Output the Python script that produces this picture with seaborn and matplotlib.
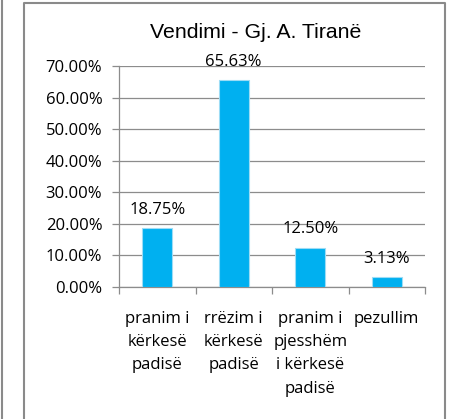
import matplotlib
matplotlib.use("Agg")
import matplotlib.pyplot as plt
import seaborn as sns
from matplotlib.lines import Line2D
from matplotlib.ticker import FuncFormatter, FixedLocator

# Data
categories = ["pranim i\nkërkesë\npadisë", "rrëzim i\nkërkesë\npadisë",
              "pranim i\npjesshëm\ni kërkesë\npadisë", "pezullim"]
shares = [0.1875, 0.6563, 0.1250, 0.0313]
share_labels = ["18.75%", "65.63%", "12.50%", "3.13%"]
title = "Vendimi - Gj. A. Tiranë"

sns.set_style("white")
plt.rcParams['font.family'] = ['Open Sans', 'DejaVu Sans']
plt.rcParams['text.color'] = 'black'
plt.rcParams['xtick.labelcolor'] = 'black'
plt.rcParams['ytick.labelcolor'] = 'black'

W, H = 449, 419
fig = plt.figure(figsize=(W / 100, H / 100), dpi=100)
ax = fig.add_axes([119 / W, 1 - 287 / H, (425 - 119) / W, (287 - 66) / H])

sns.barplot(x=categories, y=shares, color="#00B0F0", saturation=1, width=0.39,
            edgecolor="#9ddcf5", linewidth=0.8, ax=ax, zorder=3)

ax.set_ylim(0, 0.70)
ax.set_xlim(-0.5, 3.5)
ax.set_yticks([i / 10 for i in range(8)])
ax.yaxis.set_major_formatter(FuncFormatter(lambda v, p: f"{v * 100:.2f}%"))
ax.yaxis.grid(True, color="#8c8c8c", linewidth=0.9, zorder=0)
ax.set_axisbelow(True)

for s in ["top", "right"]:
    ax.spines[s].set_visible(False)
for s in ["left", "bottom"]:
    ax.spines[s].set_color("#8c8c8c")
    ax.spines[s].set_linewidth(0.9)

ax.tick_params(axis="y", which="major", left=True, length=5, width=0.9,
               color="#8c8c8c", labelsize=12, pad=7)
ax.tick_params(axis="x", which="major", length=0, labelsize=12, pad=17)
ax.xaxis.set_minor_locator(FixedLocator([-0.5, 0.5, 1.5, 2.5, 3.5]))
ax.tick_params(axis="x", which="minor", bottom=True, length=5, width=0.9,
               color="#8c8c8c")
for lbl in ax.get_xticklabels():
    lbl.set_linespacing(1.62)
    lbl.set_verticalalignment("top")

for i, v in enumerate(shares):
    ax.annotate(share_labels[i], (i, v), xytext=(0, 13), textcoords="offset points",
                ha="center", va="center", fontsize=12)

ax.set_xlabel("")
ax.set_ylabel("")

fig.text(256 / W, 1 - 33 / H, title, ha="center", va="center", fontsize=15.3,
         family=["Liberation Sans", "DejaVu Sans"])

# chart frame lines
frame = "#8a8a8a"
fig.add_artist(Line2D([2 / W, 2 / W], [0, 1], color=frame, linewidth=1.5))
fig.add_artist(Line2D([24 / W, 24 / W, 445 / W, 445 / W], [0, 1 - 3 / H, 1 - 3 / H, 0],
                      color=frame, linewidth=1.5))

fig.savefig("out.png", dpi=100)
